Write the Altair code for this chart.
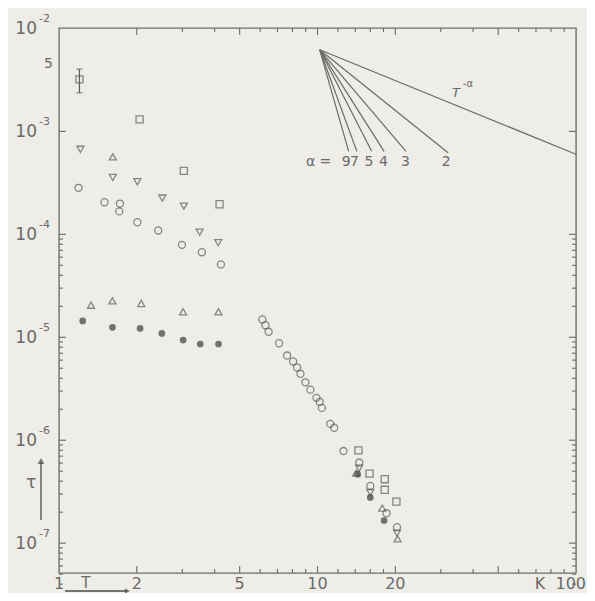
import altair as alt
import pandas as pd

# ---------------- data ----------------
# open squares
sq_x = [1.2, 2.05, 3.04, 4.18, 14.4, 15.9, 18.2, 18.2, 20.2]
sq_y = [3.2e-3, 1.31e-3, 4.14e-4, 1.96e-4, 7.96e-7, 4.74e-7, 4.18e-7, 3.3e-7, 2.53e-7]
# error bar on first square
err_x = [1.2]
err_lo = [2.37e-3]
err_hi = [4.03e-3]
# open down-triangles
td_x = [1.21, 1.615, 2.01, 2.51, 3.04, 3.5, 4.13, 14.5, 16.0, 20.3]
td_y = [6.7e-4, 3.57e-4, 3.24e-4, 2.25e-4, 1.88e-4, 1.05e-4, 8.3e-5, 5.35e-7, 3.1e-7, 1.25e-7]
# open up-triangles
tu_x = [1.615, 1.33, 1.61, 2.08, 3.02, 4.14, 14.1, 17.8, 20.4]
tu_y = [5.65e-4, 2.05e-5, 2.26e-5, 2.13e-5, 1.77e-5, 1.77e-5, 4.8e-7, 2.19e-7, 1.1e-7]
# open circles
oc_x = [1.19, 1.5, 1.72, 1.71, 2.01, 2.42, 2.99, 3.57, 4.23,
        6.12, 6.29, 6.47, 7.1, 7.63, 8.05, 8.34, 8.59, 8.98, 9.39, 9.91, 10.2, 10.4,
        11.2, 11.6, 12.6, 14.5, 16.0, 18.5, 20.3]
oc_y = [2.83e-4, 2.05e-4, 1.99e-4, 1.67e-4, 1.31e-4, 1.09e-4, 7.9e-5, 6.7e-5, 5.1e-5,
        1.49e-5, 1.31e-5, 1.13e-5, 8.75e-6, 6.65e-6, 5.82e-6, 5.09e-6, 4.42e-6, 3.65e-6,
        3.1e-6, 2.58e-6, 2.36e-6, 2.06e-6, 1.44e-6, 1.32e-6, 7.85e-7, 6.07e-7, 3.6e-7,
        1.95e-7, 1.43e-7]
# filled circles
fc_x = [1.235, 1.61, 2.06, 2.5, 3.02, 3.52, 4.14, 14.3, 16.0, 18.1]
fc_y = [1.44e-5, 1.25e-5, 1.22e-5, 1.09e-5, 9.4e-6, 8.6e-6, 8.6e-6, 4.68e-7, 2.78e-7, 1.66e-7]

# T^-alpha guide lines (apex and end points)
apex_x = 10.2
apex_y = 6.2e-3
guide_alpha = [9, 7, 5, 4, 3, 2, 1]
guide_end_x = [13.2, 14.2, 16.2, 18.1, 22.0, 32.0, 100.0]
guide_end_y = [6.4e-4, 6.4e-4, 6.4e-4, 6.4e-4, 6.4e-4, 6.2e-4, 6.0e-4]
alpha_label_text = ["α =", "9", "7", "5", "4", "3", "2"]
alpha_label_x = [10.1, 12.9, 13.9, 15.8, 18.0, 21.9, 31.5]
alpha_label_y = 5.0e-4

# axis labels and ticks
x_label_values = [1, 2, 5, 10, 20]
x_label_texts = ["1", "2", "5", "10", "20"]
x_last_value = [100]
x_last_text = ["100"]
y_label_values = [1e-2, 1e-3, 1e-4, 1e-5, 1e-6, 1e-7]
y_label_exps = ["-2", "-3", "-4", "-5", "-6", "-7"]
y_extra_value = [5e-3]
y_extra_text = ["5"]
x_major_ticks = [2, 5, 10, 20, 50]
x_minor_ticks = [3, 4, 6, 7, 8, 9, 12, 14, 16, 18, 30, 40, 60, 70, 80, 90]
y_major_ticks = [1e-3, 1e-4, 1e-5, 1e-6, 1e-7]
y_minor_ticks = [m * 10.0 ** e for e in [-8, -7, -6, -5] for m in range(2, 10)]

X_DOM = [1, 100]
Y_DOM = [5.13e-8, 1.01e-2]
W, H = 517, 545
INK = "#5a5a5a"
LINE = "#6a6a6a"
FONT = "DejaVu Sans"

# ---------------- tables ----------------
open_df = pd.DataFrame({
    "x": sq_x + td_x + tu_x + oc_x,
    "y": sq_y + td_y + tu_y + oc_y,
    "s": ["square"] * len(sq_x) + ["triangle-down"] * len(td_x)
         + ["triangle-up"] * len(tu_x) + ["circle"] * len(oc_x),
})
fill_df = pd.DataFrame({"x": fc_x, "y": fc_y})
err_df = pd.DataFrame({"x": err_x, "lo": err_lo, "hi": err_hi})
guide_rows = []
for a, ex, ey in zip(guide_alpha, guide_end_x, guide_end_y):
    guide_rows.append({"alpha": a, "x": apex_x, "y": apex_y})
    guide_rows.append({"alpha": a, "x": ex, "y": ey})
guide_df = pd.DataFrame(guide_rows)
alab_df = pd.DataFrame({"t": alpha_label_text, "x": alpha_label_x,
                        "y": [alpha_label_y] * len(alpha_label_x)})
xl_df = pd.DataFrame({"v": x_label_values, "t": x_label_texts})
xl2_df = pd.DataFrame({"v": x_last_value, "t": x_last_text})
yl_df = pd.DataFrame({"v": y_label_values, "e": y_label_exps})
y5_df = pd.DataFrame({"v": y_extra_value, "t": y_extra_text})

xs = alt.Scale(type="log", domain=X_DOM, nice=False)
ys = alt.Scale(type="log", domain=Y_DOM, nice=False)


def X(field):
    return alt.X(field, scale=xs, axis=None)


def Y(field):
    return alt.Y(field, scale=ys, axis=None)


open_pts = alt.Chart(open_df).mark_point(filled=False, strokeWidth=1.3, size=50, color=INK).encode(
    x=X("x:Q"), y=Y("y:Q"),
    shape=alt.Shape("s:N", legend=None,
                    scale=alt.Scale(domain=["square", "triangle-down", "triangle-up", "circle"],
                                    range=["square", "triangle-down", "triangle-up", "circle"])),
)
fill_pts = alt.Chart(fill_df).mark_point(filled=True, size=45, color="#3c3c3c", shape="circle").encode(
    x=X("x:Q"), y=Y("y:Q"))

err_rule = alt.Chart(err_df).mark_rule(color=INK, strokeWidth=1.2).encode(
    x=X("x:Q"), y=Y("lo:Q"), y2="hi:Q")
err_cap_lo = alt.Chart(err_df).mark_tick(orient="horizontal", size=6, thickness=1.2, color=INK).encode(
    x=X("x:Q"), y=Y("lo:Q"))
err_cap_hi = alt.Chart(err_df).mark_tick(orient="horizontal", size=6, thickness=1.2, color=INK).encode(
    x=X("x:Q"), y=Y("hi:Q"))

guides = alt.Chart(guide_df).mark_line(color=LINE, strokeWidth=1.2).encode(
    x=X("x:Q"), y=Y("y:Q"), detail="alpha:N")

alab = alt.Chart(alab_df).mark_text(fontSize=14, font=FONT, color=LINE, baseline="middle").encode(
    x=X("x:Q"), y=Y("y:Q"), text="t:N")

tlab_df = pd.DataFrame({"x": [34.3], "y": [2.38e-3]})
tlab = alt.Chart(tlab_df).mark_text(text="T", fontSize=13, font=FONT, fontStyle="italic",
                                    color=LINE, baseline="middle").encode(x=X("x:Q"), y=Y("y:Q"))
tsup = alt.Chart(tlab_df).mark_text(text="-α", fontSize=10, font=FONT, color=LINE,
                                    baseline="middle", dx=12, dy=-9).encode(x=X("x:Q"), y=Y("y:Q"))

# tick labels (through the scales)
x_labels = alt.Chart(xl_df).mark_text(fontSize=16, font=FONT, color=LINE, baseline="middle").encode(
    x=X("v:Q"), y=alt.value(H + 11), text="t:N")
x_label_last = alt.Chart(xl2_df).mark_text(fontSize=16, font=FONT, color=LINE, baseline="middle",
                                           align="right", dx=10).encode(
    x=X("v:Q"), y=alt.value(H + 11), text="t:N")
y_labels_base = alt.Chart(yl_df).mark_text(text="10", fontSize=17, font=FONT, color=LINE,
                                           baseline="middle", align="right", dy=1).encode(
    x=alt.value(-22), y=Y("v:Q"))
y_labels_exp = alt.Chart(yl_df).mark_text(fontSize=11, font=FONT, color=LINE,
                                          baseline="middle", align="left", dy=-9).encode(
    x=alt.value(-20), y=Y("v:Q"), text="e:N")
y_label_5 = alt.Chart(y5_df).mark_text(fontSize=14, font=FONT, color=LINE,
                                       baseline="middle", align="right", dy=5).encode(
    x=alt.value(-6), y=Y("v:Q"), text="t:N")


# frame ticks (inward)
def xticks(vals, length):
    d = pd.DataFrame({"v": vals})
    bot = alt.Chart(d).mark_rule(color=LINE, strokeWidth=1.1).encode(
        x=X("v:Q"), y=alt.value(H), y2=alt.value(H - length))
    top = alt.Chart(d).mark_rule(color=LINE, strokeWidth=1.1).encode(
        x=X("v:Q"), y=alt.value(0), y2=alt.value(length))
    return [bot, top]


def yticks(vals, length):
    d = pd.DataFrame({"v": vals})
    left = alt.Chart(d).mark_rule(color=LINE, strokeWidth=1.1).encode(
        y=Y("v:Q"), x=alt.value(0), x2=alt.value(length))
    right = alt.Chart(d).mark_rule(color=LINE, strokeWidth=1.1).encode(
        y=Y("v:Q"), x=alt.value(W), x2=alt.value(W - length))
    return [left, right]


tick_layers = (xticks(x_major_ticks, 7) + xticks(x_minor_ticks, 4)
               + yticks(y_major_ticks, 7) + yticks(y_minor_ticks, 4))

# axis annotations: T ->, K, tau ^
ann_df = pd.DataFrame({"x": [1.27], "x1": [1.055], "x2": [1.84], "k": [72.6]})
t_text = alt.Chart(ann_df).mark_text(text="T", fontSize=15, font=FONT, color=LINE, baseline="middle").encode(
    x=X("x:Q"), y=alt.value(H + 10))
k_text = alt.Chart(ann_df).mark_text(text="K", fontSize=16, font=FONT, color=LINE, baseline="middle").encode(
    x=X("k:Q"), y=alt.value(H + 11))
t_arrow = alt.Chart(ann_df).mark_rule(color="#4a4a4a", strokeWidth=1.3).encode(
    x=X("x1:Q"), x2="x2:Q", y=alt.value(H + 18))
t_head = alt.Chart(ann_df).mark_point(shape="triangle-right", filled=True, size=30, color="#4a4a4a").encode(
    x=X("x2:Q"), y=alt.value(H + 18))

tau_df = pd.DataFrame({"a": [0]})
tau_text = alt.Chart(tau_df).mark_text(text="τ", fontSize=17, font=FONT, color=LINE, baseline="middle").encode(
    x=alt.value(-28), y=alt.value(455))
tau_arrow = alt.Chart(tau_df).mark_rule(color="#4a4a4a", strokeWidth=1.3).encode(
    x=alt.value(-18), y=alt.value(492), y2=alt.value(434))
tau_head = alt.Chart(tau_df).mark_point(shape="triangle-up", filled=True, size=50, color="#4a4a4a").encode(
    x=alt.value(-18), y=alt.value(433))

chart = alt.layer(
    *tick_layers, guides, alab, tlab, tsup, err_rule, err_cap_lo, err_cap_hi,
    open_pts, fill_pts, x_labels, x_label_last, y_labels_base, y_labels_exp, y_label_5,
    t_text, k_text, t_arrow, t_head, tau_text, tau_arrow, tau_head,
).properties(
    width=W, height=H,
    autosize=alt.AutoSizeParams(type="none"),
    padding={"left": 51, "top": 20, "right": 11, "bottom": 20},
    background="#eeede7",
).configure_view(stroke="#6e6e6e", strokeWidth=1.4)

chart.save("out.html", embed_options={"renderer": "svg", "actions": False})
